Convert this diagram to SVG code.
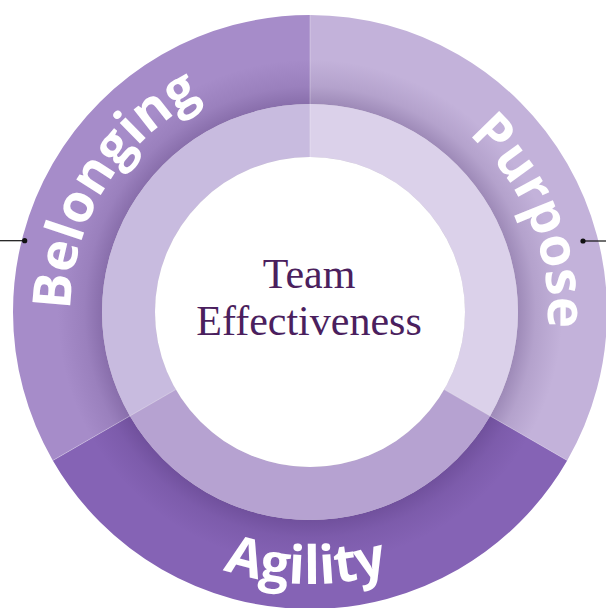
<svg xmlns="http://www.w3.org/2000/svg" width="606" height="608" viewBox="0 0 606 608">
  <style>
    .seg-label { font-family: "Open Sans", "Liberation Sans", sans-serif; font-weight: 700; font-size: 53px; fill: #ffffff; }
    .center-label { font-family: "Liberation Serif", "DejaVu Serif", serif; font-size: 42px; fill: #4b1f5e; text-anchor: middle; }
    .divider { stroke: #ffffff; stroke-opacity: 0.3; stroke-width: 1; fill: none; }
    .conn { stroke: #111111; stroke-width: 1.2; fill: none; }
    .dot { fill: #111111; }
  </style>
  <defs>
    <radialGradient id="ringShadow" gradientUnits="userSpaceOnUse" cx="310" cy="312" r="297">
      <stop offset="0.69" stop-color="#3a1f5c" stop-opacity="0.3"/>
      <stop offset="0.76" stop-color="#3a1f5c" stop-opacity="0.11"/>
      <stop offset="0.85" stop-color="#3a1f5c" stop-opacity="0"/>
      <stop offset="1" stop-color="#3a1f5c" stop-opacity="0"/>
    </radialGradient>
    <path id="pBelonging" d="M 102.5 431.5 A 239 239 0 0 1 310 73"/>
    <path id="pPurpose" d="M 310 74 A 238 238 0 0 1 516.11 431"/>
    <path id="pAgility" d="M 74.44 448 A 272 272 0 0 0 545.56 448"/>
  </defs>

  <g id="belonging">
    <path d="M 52.79 460.5 A 297 297 0 0 1 310 15 L 310 104 A 208 208 0 0 0 129.87 416 Z" fill="#a68cc9"/>
  </g>
  <g id="purpose">
    <path d="M 310 15 A 297 297 0 0 1 567.21 460.5 L 490.13 416 A 208 208 0 0 0 310 104 Z" fill="#c3b2da"/>
  </g>
  <g id="agility">
    <path d="M 567.21 460.5 A 297 297 0 0 1 52.79 460.5 L 129.87 416 A 208 208 0 0 0 490.13 416 Z" fill="#8563b5"/>
  </g>

  <circle cx="310" cy="312" r="297" fill="url(#ringShadow)"/>

  <g id="inner-ring">
    <path d="M 129.87 416 A 208 208 0 0 1 310 104 L 310 157 A 155 155 0 0 0 175.77 389.5 Z" fill="#c8bbdf"/>
    <path d="M 310 104 A 208 208 0 0 1 490.13 416 L 444.23 389.5 A 155 155 0 0 0 310 157 Z" fill="#dbd1ea"/>
    <path d="M 490.13 416 A 208 208 0 0 1 129.87 416 L 175.77 389.5 A 155 155 0 0 0 444.23 389.5 Z" fill="#b6a2d1"/>
  </g>

  <g id="dividers">
    <line class="divider" x1="310" y1="15" x2="310" y2="157"/>
    <line class="divider" x1="52.79" y1="460.5" x2="175.77" y2="389.5"/>
    <line class="divider" x1="567.21" y1="460.5" x2="444.23" y2="389.5"/>
  </g>

  <g id="center">
    <circle cx="310" cy="312" r="155" fill="#ffffff"/>
    <text class="center-label" x="309" y="288">Team</text>
    <text class="center-label" x="309" y="335">Effectiveness</text>
  </g>

  <g id="labels">
    <text class="seg-label" text-anchor="middle"><textPath href="#pBelonging" startOffset="51.5%">Belonging</textPath></text>
    <text class="seg-label" text-anchor="middle"><textPath href="#pPurpose" startOffset="56.5%">Purpose</textPath></text>
    <text class="seg-label" text-anchor="middle"><textPath href="#pAgility" startOffset="49.2%">Agility</textPath></text>
  </g>

  <g id="connectors">
    <line class="conn" x1="0" y1="240.7" x2="24.7" y2="240.7"/>
    <circle class="dot" cx="24.7" cy="240.7" r="2.6"/>
    <line class="conn" x1="583" y1="241" x2="606" y2="241"/>
    <circle class="dot" cx="583" cy="241" r="2.6"/>
  </g>
</svg>
